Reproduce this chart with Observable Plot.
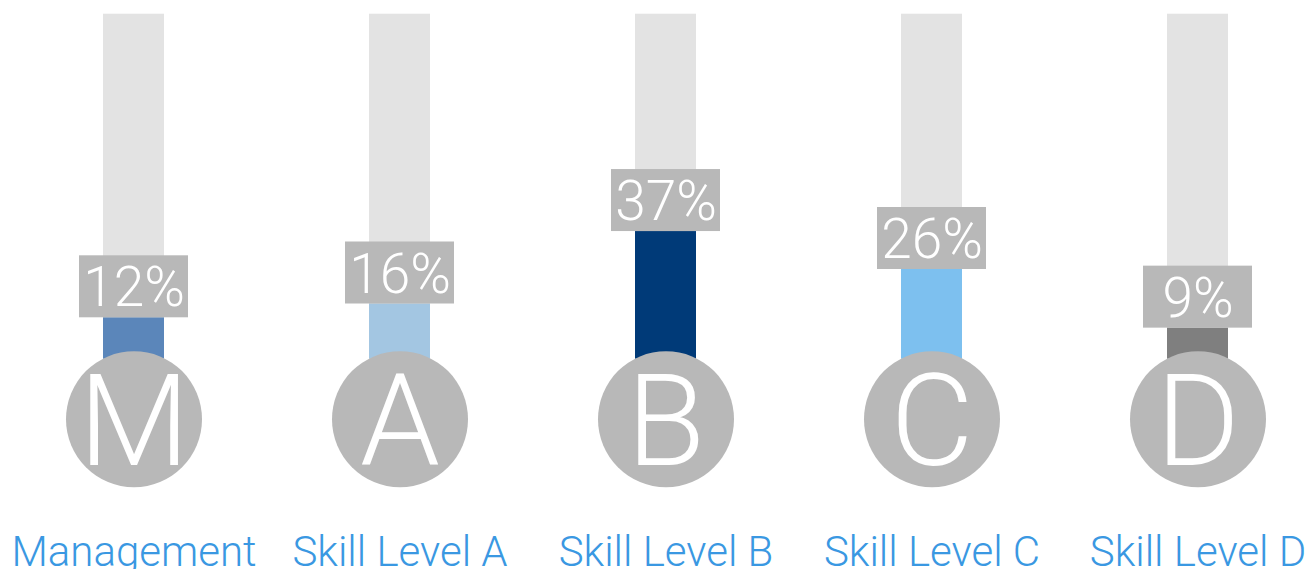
<!DOCTYPE html>
<html>
<head>
<meta charset="utf-8">
<script src="https://cdn.jsdelivr.net/npm/d3@7"></script>
<script src="https://cdn.jsdelivr.net/npm/@observablehq/plot@0.6"></script>
<style>
  html, body { margin: 0; padding: 0; background: #ffffff; }
  #chart svg { display: block; }
</style>
</head>
<body>
<div id="chart"></div>
<script>
const categories = ["Management", "Skill Level A", "Skill Level B", "Skill Level C", "Skill Level D"];
const letters = ["M", "A", "B", "C", "D"];
const values = [12, 16, 37, 26, 9];
const maxValues = [100, 100, 100, 100, 100];
const barColors = ["#5b86ba", "#a3c6e2", "#003a78", "#7dc0ef", "#7f7f7f"];

const data = categories.map((c, i) => ({
  category: c,
  letter: letters[i],
  value: values[i],
  max: maxValues[i],
  color: barColors[i]
}));

const lightFont = "'Helvetica Neue', Roboto, Inter, 'Liberation Sans', sans-serif";
const labelFont = "'Helvetica Neue', Roboto, 'Liberation Sans', Arial, sans-serif";

const chart = Plot.plot({
  width: 1316,
  height: 569,
  margin: 0,
  style: { background: "#ffffff", fontFamily: labelFont, overflow: "visible" },
  color: { type: "identity" },
  x: { type: "band", domain: categories, range: [103, 1228], paddingInner: 0.7707, paddingOuter: 0, axis: null },
  y: { domain: [0, 100], range: [358.7, 13.7], axis: null },
  marks: [
    Plot.barY(data, { x: "category", y1: 0, y2: "max", fill: "#e3e3e3" }),
    Plot.barY(data, { x: "category", y1: 0, y2: "value", fill: "color" }),
    Plot.dot(data, { x: "category", y: 0, dy: 60, r: 68, fill: "#b8b8b8", stroke: null }),
    Plot.text(data, { x: "category", y: 0, dy: 65, text: "letter", fill: "#ffffff", fontSize: 128, fontWeight: 300, fontFamily: lightFont }),
    Plot.barY(data, { x: "category", y1: "value", y2: "value", insetLeft: -24, insetRight: -24, insetTop: -62, fill: "#b8b8b8" }),
    Plot.text(data, { x: "category", y: "value", dy: -29, text: d => d.value + "%", fill: "#ffffff", fontSize: 55, fontWeight: 300, fontFamily: lightFont }),
    Plot.text(data, { x: "category", frameAnchor: "bottom", lineAnchor: "bottom", dy: -4, text: "category", fill: "#3a98e2", fontSize: 42, fontWeight: 300, fontFamily: labelFont })
  ]
});

document.getElementById("chart").appendChild(chart);
</script>
</body>
</html>
